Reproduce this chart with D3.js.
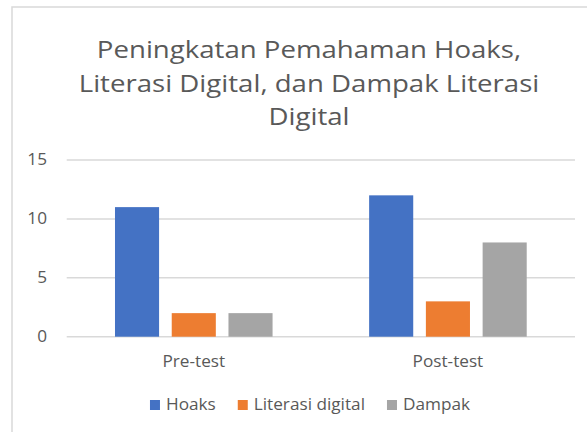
<!DOCTYPE html>
<html>
<head>
<meta charset="utf-8">
<script src="https://cdn.jsdelivr.net/npm/d3@7"></script>
<style>
  html, body { margin: 0; padding: 0; background: #fff; }
  svg { display: block; }
  text { font-family: "Open Sans", sans-serif; }
</style>
</head>
<body>
<svg id="chart" width="587" height="432"></svg>
<script>
const titleLines = ["Peningkatan Pemahaman Hoaks,", "Literasi Digital, dan Dampak Literasi", "Digital"];
const categories = ["Pre-test", "Post-test"];
const seriesNames = ["Hoaks", "Literasi digital", "Dampak"];
const hoaks = [11, 12];
const literasiDigital = [2, 3];
const dampak = [2, 8];
const yTicks = [0, 5, 10, 15];
const colors = ["#4472C4", "#ED7D31", "#A5A5A5"];

const seriesValues = [hoaks, literasiDigital, dampak];
const svg = d3.select("#chart");
const textColor = "#595959";
const fontFam = "'Open Sans', sans-serif";
const labelSize = "15.5px";
const sxTitle = 1.15, sxLabel = 1.11;

// chart border
svg.append("rect").attr("x", 12).attr("y", 7).attr("width", 600).attr("height", 450)
  .attr("fill", "#fff").attr("stroke", "#D9D9D9").attr("stroke-width", 1.5);

// title
const title = svg.append("g").attr("transform", `translate(309,0) scale(${sxTitle},1)`)
  .append("text").attr("text-anchor", "middle").attr("fill", textColor)
  .style("font-size", "24px");
titleLines.forEach((l, i) => {
  title.append("tspan").attr("x", 0).attr("y", 58.5 + i * 33.5).text(l);
});

const plotL = 66.7, plotR = 575, plotT = 160, plotB = 336.7;
const y = d3.scaleLinear().domain([0, 15]).range([plotB, plotT]);
const x0 = d3.scaleBand().domain(categories).range([plotL, plotR]).paddingInner(0.38).paddingOuter(0.19);
const x1 = d3.scaleBand().domain(seriesNames).range([0, x0.bandwidth()]).paddingInner(0.223);

// gridlines
svg.append("g").selectAll("line").data(yTicks).join("line")
  .attr("x1", plotL).attr("x2", plotR)
  .attr("y1", d => y(d)).attr("y2", d => y(d))
  .attr("stroke", "#D9D9D9").attr("stroke-width", 1.5);

// y axis labels
const yAxis = d3.axisLeft(y).tickValues(yTicks).tickSize(0).tickPadding(0);
const ya = svg.append("g").attr("transform", `translate(47,0) scale(${sxLabel},1)`).call(yAxis);
ya.select(".domain").remove();
ya.selectAll("text").attr("fill", textColor).style("font-size", labelSize).style("font-family", fontFam);

// bars
const groups = svg.append("g").selectAll("g").data(categories).join("g")
  .attr("transform", d => `translate(${x0(d)},0)`);
groups.selectAll("rect").data((c, ci) => seriesNames.map((s, si) => ({ s, si, v: seriesValues[si][ci] })))
  .join("rect")
  .attr("x", d => x1(d.s)).attr("width", x1.bandwidth())
  .attr("y", d => y(d.v)).attr("height", d => y(0) - y(d.v))
  .attr("fill", d => colors[d.si]);

// x axis labels
const xAxis = d3.axisBottom(x0).tickSize(0).tickPadding(0);
const xa = svg.append("g").attr("transform", `translate(0,${plotB})`).call(xAxis);
xa.select(".domain").remove();
xa.selectAll("text").attr("fill", textColor).attr("dy", null).attr("y", 30.7)
  .attr("transform", `scale(${sxLabel},1)`)
  .style("font-size", labelSize).style("font-family", fontFam);

// legend
const legend = svg.append("g");
const items = legend.selectAll("g").data(seriesNames).join("g");
items.append("rect").attr("width", 10).attr("height", 10).attr("y", 400).attr("fill", (d, i) => colors[i]);
items.append("text").attr("x", 0).attr("y", 410.5).attr("fill", textColor)
  .attr("transform", `translate(16,0) scale(${sxLabel},1)`)
  .style("font-size", labelSize).text(d => d);
let widths = [];
items.each(function() { widths.push(16 + sxLabel * d3.select(this).select("text").node().getComputedTextLength()); });
const gap = 22;
const total = d3.sum(widths) + gap * (widths.length - 1);
let cx = 310 - total / 2;
items.each(function(d, i) {
  d3.select(this).attr("transform", `translate(${cx},0)`);
  cx += widths[i] + gap;
});
</script>
</body>
</html>
